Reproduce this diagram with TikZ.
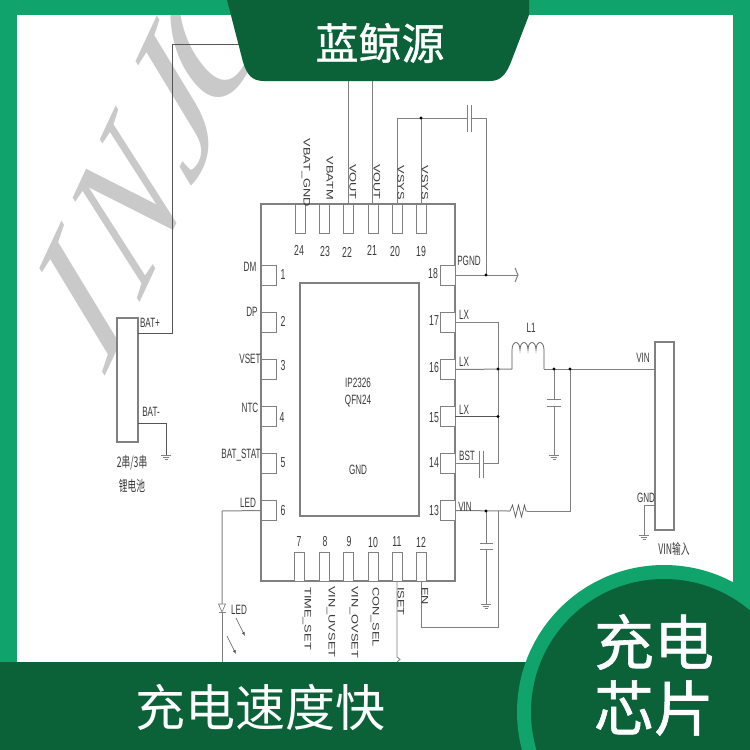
\documentclass[tikz,border=0pt]{standalone}
\usepackage{fontspec}
\usepackage{graphicx}
\setmainfont{Liberation Sans}
\newfontfamily\cjk{Noto Sans CJK SC}
\newfontfamily\cjkb[FakeBold=1.0]{Noto Sans CJK SC}
\newfontfamily\wmark{Liberation Serif Italic}
\usetikzlibrary{calc,arrows.meta}
\definecolor{rim}{HTML}{10A36B}
\definecolor{deep}{HTML}{0B6239}
\definecolor{wire}{HTML}{808080}
\definecolor{darkwire}{HTML}{555555}
\definecolor{wm}{HTML}{C9C9C9}
\definecolor{ink}{HTML}{3A3A3A}
\newcommand{\nar}[1]{\scalebox{0.6}[1]{#1}}
\newcommand{\wid}[1]{\scalebox{1.35}[1]{#1}}
\newcommand{\wmk}[1]{\scalebox{1.25}[1]{#1}}
\tikzset{
  wireline/.style={draw=wire,line width=1pt},
  darkline/.style={draw=darkwire,line width=1pt},
  pinbox/.style={draw=wire,line width=1pt,fill=white,inner sep=0,outer sep=0},
  vpin/.style={pinbox,minimum width=10,minimum height=29},
  hpin/.style={pinbox,minimum width=15,minimum height=20},
  blockbox/.style={draw=wire,line width=1.1pt,fill=white,inner sep=0,outer sep=0},
  numlabel/.style={font=\fontsize{14.5}{15}\selectfont,text=ink,inner sep=0},
  sidelabel/.style={font=\fontsize{13.5}{14}\selectfont,text=ink,inner sep=0},
  downlabel/.style={font=\fontsize{9.5}{10}\selectfont,text=ink,inner sep=0,rotate=-90,anchor=east},
  downlabelb/.style={font=\fontsize{9.5}{10}\selectfont,text=ink,inner sep=0,rotate=-90,anchor=west},
  jdot/.style={circle,fill=black,inner sep=0,minimum size=3.2},
  capplate/.style={draw=wire,line width=1pt},
  wmletter/.style={anchor=base west,inner sep=0,text=wm,font=\wmark\fontsize{160}{160}\selectfont},
  caption/.style={font=\cjk\fontsize{14.5}{15}\selectfont,text=ink,inner sep=0},
}
\newcommand{\gnd}[1]{%
  \draw[wireline,line width=.7pt] ($(#1)+(-5,0)$) -- ($(#1)+(5,0)$);
  \draw[wireline,line width=.7pt] ($(#1)+(-3.3,2.2)$) -- ($(#1)+(3.3,2.2)$);
  \draw[wireline,line width=.7pt] ($(#1)+(-1.5,4.4)$) -- ($(#1)+(1.5,4.4)$);}
\begin{document}
\begin{tikzpicture}[x=1pt,y=-1pt]
\useasboundingbox (0,0) rectangle (750,750);
% frame
\fill[rim] (0,0) rectangle (750,750);
\fill[white] (17,15) rectangle (733,662);
% watermark
\begin{scope}
\clip (17,15) rectangle (733,662);
\begin{scope}[shift={(98,392)},rotate=65,xslant=0.45,transform shape]
\node[wmletter] (wI) at (18,0) {\wmk{I}};
\node[wmletter] (wN) at (100,0) {\scalebox{1.05}[1]{N}};
\node[wmletter] (wJ) at (222,0) {\wmk{J}};
\node[wmletter] (wC) at (290,0) {\wmk{C}};
\end{scope}
\end{scope}
% battery and input boxes
\node[blockbox,minimum width=21,minimum height=124] (bat) at (127.5,380) {};
\node[blockbox,minimum width=19,minimum height=188] (vinbox) at (664.5,436) {};
% chip
\node[blockbox,minimum width=194,minimum height=377] (chip) at (358,392.5) {};
\node[blockbox,minimum width=119,minimum height=233] (core) at (359.5,399.5) {};
% top pins
\foreach \n/\x in {24/300,23/324,22/348,21/373,20/397,19/421}
  \node[vpin] (p\n) at (\x,218.5) {};
% bottom pins
\foreach \n/\x in {7/299.5,8/324,9/348,10/373,11/397,12/421}
  \node[vpin] (p\n) at (\x,567) {};
% left pins
\foreach \n/\y in {1/275,2/322.5,3/369.5,4/416.5,5/463.5,6/510.5}
  \node[hpin] (p\n) at (268.5,\y) {};
% right pins
\foreach \n/\y in {18/275,17/322.5,16/369.5,15/416.5,14/463.5,13/510.5}
  \node[hpin] (p\n) at (447.5,\y) {};
% numbers
\foreach \n/\x/\y in {24/299/250,23/325/252,22/347/252,21/372/250,20/395/252,19/421/252,
  7/299/542,8/325/542,9/349/542,10/373/543,11/397/542,12/421/542,
  1/283/275,2/283/321,3/283/366,4/282/418,5/283/463,6/283/511,
  18/433/274,17/434/321,16/434/368,15/434/418,14/434/463,13/434/511}
  \node[numlabel] (n\n) at (\x,\y) {\nar{\n}};
% coordinates
\coordinate (batA) at (172,333);
\coordinate (batB) at (172,44);
\coordinate (batC) at (260,44);
\coordinate (negA) at (166,423);
\coordinate (negG) at (166,455);
\coordinate (out1) at (348,60);
\coordinate (out2) at (372,60);
\coordinate (sysL) at (397,118);
\coordinate (sysM) at (421,118);
\coordinate (capTL) at (467,118);
\coordinate (capTR) at (471,118);
\coordinate (sysR) at (486,118);
\coordinate (pg) at (486,275);
\coordinate (pgEnd) at (518,275);
\coordinate (lxTop) at (498,322.5);
\coordinate (lxA) at (498,369);
\coordinate (lxB) at (498,416.5);
\coordinate (lxC) at (498,463.5);
\coordinate (bstL) at (479,463.5);
\coordinate (bstR) at (483,463.5);
\coordinate (indL) at (512,369);
\coordinate (indR) at (544,369);
\coordinate (outA) at (554,369);
\coordinate (outB) at (570,369);
\coordinate (capOt) at (554,399);
\coordinate (capOb) at (554,406);
\coordinate (gndO) at (554,455);
\coordinate (vinA) at (486,511);
\coordinate (vinB) at (498,511);
\coordinate (resL) at (508,511);
\coordinate (resR) at (527,511);
\coordinate (resE) at (570,511);
\coordinate (capVt) at (486,543);
\coordinate (capVb) at (486,549);
\coordinate (gndV) at (486,604);
\coordinate (enA) at (498,627);
\coordinate (enB) at (421,627);
\coordinate (ledT) at (222,511);
\coordinate (ledD) at (222,604);
\coordinate (ledK) at (222,612);
\coordinate (ledE) at (222,670);
\coordinate (isetE) at (397,670);
\coordinate (gndIa) at (644,505);
\coordinate (gndI) at (644,535);
% wires
\draw[darkline,line width=.8pt] (batC) -- (batB) -- (batA) -- (bat.east |- batA);
\draw[darkline,line width=.8pt] (bat.east |- negA) -- (negA) -- (negG);
\gnd{negG}
\draw[wireline] (out1) -- (p22.north);
\draw[wireline] (out2) -- (out2 |- p21.north);
\draw[wireline] (p20.north) -- (sysL) -- (capTL);
\draw[wireline] (p19.north) -- (sysM);
\draw[wireline] (capTR) -- (sysR) -- (pg);
\draw[capplate] (467,105) -- (467,132);
\draw[capplate] (471,105) -- (471,132);
\draw[wireline] (p18.east) -- (pgEnd);
\draw[wireline] (515,268) -- (pgEnd) -- (515,282);
\draw[wireline] (p17.east) -- (lxTop) -- (lxC) -- (bstR);
\draw[wireline] (p16.east) -- (indL);
\draw[darkline,line width=.8pt] (p15.east) -- (lxB);
\draw[wireline] (p14.east) -- (bstL);
\draw[capplate] (bstL)++(0,-13) -- ++(0,27);
\draw[capplate] (bstR)++(0,-13) -- ++(0,27);
\draw[darkline,line width=.7pt] (indL) -- ++(0,-19)
  .. controls +(0,-10) and +(0,-10) .. ++(8,0)
  .. controls +(0,-10) and +(0,-10) .. ++(8,0)
  .. controls +(0,-10) and +(0,-10) .. ++(8,0)
  .. controls +(0,-10) and +(0,-10) .. ++(8,0) -- (indR);
\draw[wireline] (indR) -- (vinbox.west |- indR);
\draw[wireline] (outA) -- (capOt);
\draw[capplate] (547,399) -- (561,399);
\draw[capplate] (547,406) -- (561,406);
\draw[wireline] (capOb) -- (gndO);
\gnd{gndO}
\draw[wireline] (outB) -- (resE) -- (resR);
\draw[wireline] (p13.east) -- (resL);
\draw[darkline,line width=.7pt] (resL) -- (510,511) -- (512.5,505) -- (515.5,517) -- (518.5,505) -- (521.5,517) -- (524.5,505) -- (526,511) -- (resR);
\draw[wireline] (vinA) -- (capVt);
\draw[capplate] (480,543) -- (493,543);
\draw[capplate] (480,549) -- (493,549);
\draw[wireline] (capVb) -- (gndV);
\gnd{gndV}
\draw[wireline] (vinB) -- (enA) -- (enB) -- (p12.south -| enB);
\draw[wireline] (p6.west) -- (ledT) -- (ledD);
\draw[wireline,line width=.7pt] (218.5,604) -- (225.5,604) -- (ledK) -- cycle;
\draw[wireline,line width=.7pt] (218.5,612) -- (225.5,612);
\draw[wireline] (ledK) -- (ledE);
\draw[darkline,line width=.6pt,-{Latex[length=4pt,width=3pt]}] (236,618) -- (245,636);
\draw[darkline,line width=.6pt,-{Latex[length=4pt,width=3pt]}] (227,636) -- (236,654);
\draw[wireline,line width=.8pt] (p11.south) -- (397,657) -- (400,659.5) -- (397,662) -- (isetE);
\draw[wireline] (vinbox.west |- gndIa) -- (gndIa) -- (gndI);
\gnd{gndI}
% junctions
\foreach \c in {sysM,pg,lxA,lxB,outA,outB,vinA}
  \node[jdot] at (\c) {};
% left/right labels
\foreach \t/\x/\y in {DM/250/267,DP/252/312,VSET/250/359,NTC/250/408,BAT\_STAT/241/455,LED/248/503,
  PGND/469/261,LX/464/315,LX/464/362,LX/464/410,BST/467/456,VIN/465/507,
  BAT+/150/323,BAT-/151/412,L1/531/328,VIN/643/358,GND/646/498,LED/239/610,
  IP2326/358/383,QFN24/358/401,GND/358/470}
  \node[sidelabel] at (\x,\y) {\nar{\t}};
\node[caption] (cap1) at (132,463) {\nar{2串/3串}};
\node[caption] (cap2) at (132,486) {\nar{锂电池}};
\node[caption] (cap3) at (674,549) {\nar{VIN输入}};
% rotated labels
\node[downlabel] at (306,207) {\wid{VBAT\_GND}};
\node[downlabel] at (330,200) {\wid{VBATM}};
\node[downlabel] at (353,200) {\wid{VOUT}};
\node[downlabel] at (377,200) {\wid{VOUT}};
\node[downlabel] at (401,200) {\wid{VSYS}};
\node[downlabel] at (425,200) {\wid{VSYS}};
\node[downlabelb] at (307,587) {\wid{TIME\_SET}};
\node[downlabelb] at (331,586) {\wid{VIN\_UVSET}};
\node[downlabelb] at (354,586) {\wid{VIN\_OVSET}};
\node[downlabelb] at (375,587) {\wid{CON\_SEL}};
\node[downlabelb] at (401,587) {\wid{ISET}};
\node[downlabelb] at (425,587) {\wid{EN}};
% banners
\fill[deep] (227,0) -- (529,0) -- (529,15) -- (511,62) .. controls (506,75) and (500,81) .. (490,81) -- (264,81) .. controls (252,81) and (247,75) .. (243,62) -- cycle;
\fill[deep] (0,662) rectangle (750,750);
\begin{scope}
\clip (0,0) rectangle (750,750);
\fill[rim] (664,712) circle[radius=147];
\fill[deep] (664,712) circle[radius=133];
\end{scope}
\node[font=\cjkb\fontsize{43}{43}\selectfont,text=white,inner sep=0] (brand) at (380,43) {蓝鲸源};
\node[font=\cjk\fontsize{50}{50}\selectfont,text=white,inner sep=0] (slogan) at (260,707) {充电速度快};
\node[font=\cjkb\fontsize{60}{60}\selectfont,text=white,inner sep=0] (t1) at (654,642) {充电};
\node[font=\cjkb\fontsize{60}{60}\selectfont,text=white,inner sep=0] (t2) at (654,708) {芯片};
\end{tikzpicture}
\end{document}
